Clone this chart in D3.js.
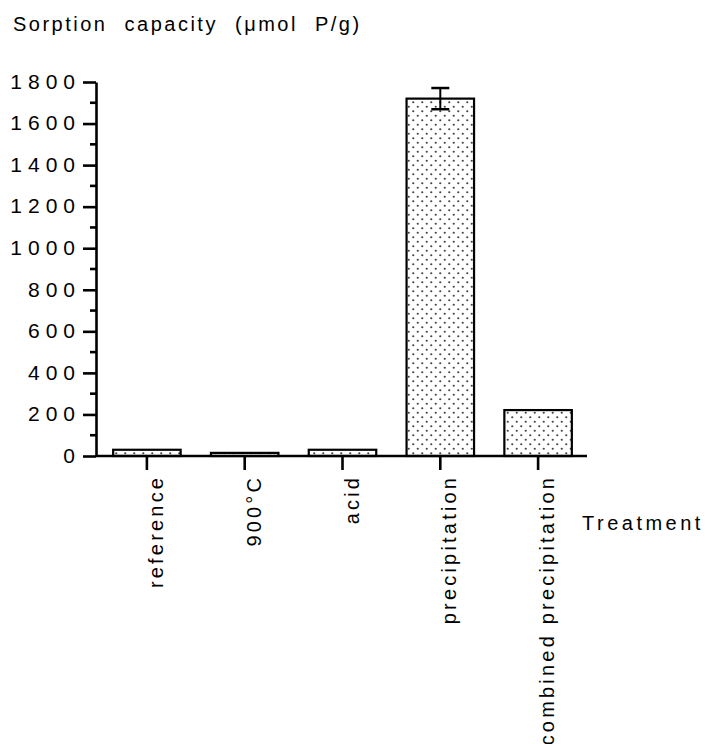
<!DOCTYPE html>
<html>
<head>
<meta charset="utf-8">
<script src="https://cdn.jsdelivr.net/npm/d3@7"></script>
<style>
  body { margin: 0; background: #fff; }
  text { font-family: "Liberation Sans", Arial, sans-serif; fill: #000; }
</style>
</head>
<body>
<div id="chart"></div>
<script>
const treatments = ["reference", "900°C", "acid", "precipitation", "combined precipitation"];
const capacity = [30, 15, 30, 1720, 221];
const capacityErr = [0, 0, 0, 51, 0];
const yTicks = [0, 200, 400, 600, 800, 1000, 1200, 1400, 1600, 1800];

const LS = 3.2;    // letter spacing of category labels
const LS_Y = 6;    // letter spacing of y tick labels

let margin = { top: 82, left: 96, right: 118, bottom: 288 },
    width = 705 - margin.left - margin.right,
    height = 744 - margin.top - margin.bottom;

let svg = d3.select("#chart")
    .append("svg")
    .attr("width", 705)
    .attr("height", 744);

// dotted fill
let pat = svg.append("defs").append("pattern")
    .attr("id", "dots")
    .attr("patternUnits", "userSpaceOnUse")
    .attr("width", 9)
    .attr("height", 9);
pat.append("rect").attr("width", 9).attr("height", 9).attr("fill", "#fff");
pat.append("circle").attr("cx", 2.25).attr("cy", 2.25).attr("r", 1.1).attr("fill", "#444");
pat.append("circle").attr("cx", 6.75).attr("cy", 6.75).attr("r", 1.1).attr("fill", "#444");

let g = svg.append("g")
    .attr("transform", "translate(" + margin.left + "," + margin.top + ")");

let xScale = d3.scaleBand()
    .domain(treatments)
    .range([2, width])
    .paddingInner(0.31)
    .paddingOuter(0.155);

let yScale = d3.scaleLinear()
    .domain([0, 1800])
    .range([height, 0]);

// bars
g.selectAll(".bar")
    .data(treatments)
    .enter()
    .append("rect")
    .attr("x", d => xScale(d))
    .attr("width", xScale.bandwidth())
    .attr("y", (d, i) => yScale(capacity[i]))
    .attr("height", (d, i) => height - yScale(capacity[i]))
    .attr("fill", "url(#dots)")
    .attr("stroke", "#000")
    .attr("stroke-width", 2.2);

// error bars
treatments.forEach((d, i) => {
    if (!capacityErr[i]) return;
    let cx = xScale(d) + xScale.bandwidth() / 2;
    let lo = yScale(capacity[i] - capacityErr[i]);
    let hi = yScale(capacity[i] + capacityErr[i]);
    g.append("line").attr("x1", cx).attr("x2", cx).attr("y1", lo).attr("y2", hi)
        .attr("stroke", "#000").attr("stroke-width", 2);
    [lo, hi].forEach(y => {
        g.append("line").attr("x1", cx - 9).attr("x2", cx + 9).attr("y1", y).attr("y2", y)
            .attr("stroke", "#000").attr("stroke-width", 2.5);
    });
});

// y axis
let yAxis = g.append("g")
    .call(d3.axisLeft(yScale).tickValues(yTicks).tickFormat(d3.format("d"))
        .tickSize(13).tickSizeOuter(0));
yAxis.select(".domain").attr("stroke-width", 2.6);
yAxis.selectAll(".tick line").attr("stroke-width", 2.6);
yAxis.selectAll(".tick text")
    .attr("font-family", null)
    .style("font-size", "21px")
    .style("letter-spacing", LS_Y + "px")
    .attr("x", -21 + LS_Y)
    .attr("dy", "0.3em");

// minor ticks
g.append("g").selectAll("line")
    .data(d3.range(100, 1800, 200))
    .enter()
    .append("line")
    .attr("x1", -6).attr("x2", 0)
    .attr("y1", d => yScale(d)).attr("y2", d => yScale(d))
    .attr("stroke", "#000").attr("stroke-width", 2.6);

// x axis
let xAxis = g.append("g")
    .attr("transform", "translate(0," + height + ")")
    .call(d3.axisBottom(xScale).tickSize(14).tickSizeOuter(0));
xAxis.select(".domain").attr("stroke-width", 2.6).attr("d", "M0,0H" + width);
xAxis.selectAll(".tick line").attr("stroke-width", 2.6);
xAxis.selectAll(".tick text")
    .attr("font-family", null)
    .style("font-size", "20px")
    .style("letter-spacing", LS + "px")
    .style("text-anchor", "end")
    .attr("y", 0)
    .attr("dy", 0)
    .attr("transform", "translate(16," + (22 - LS) + ") rotate(-90)");

// axis titles
svg.append("text")
    .attr("x", 13)
    .attr("y", 31)
    .style("font-size", "20px")
    .style("letter-spacing", "2.5px")
    .style("word-spacing", "9px")
    .text("Sorption capacity (μmol P/g)");

svg.append("text")
    .attr("x", 582)
    .attr("y", 530)
    .style("font-size", "20px")
    .style("letter-spacing", "3.5px")
    .text("Treatment");
</script>
</body>
</html>
